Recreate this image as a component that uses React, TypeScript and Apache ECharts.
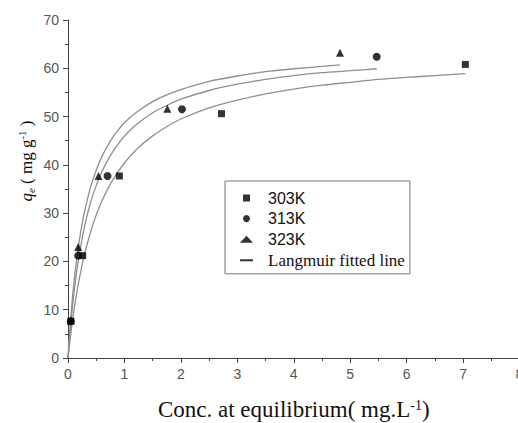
import React, { useEffect, useRef } from "react";
import * as echarts from "echarts";

// Experimental points (Ce, qe)
const s303: [number, number][] = [[0.05, 7.6], [0.26, 21.2], [0.91, 37.7], [2.72, 50.6], [7.04, 60.8]];
const s313: [number, number][] = [[0.05, 7.6], [0.18, 21.2], [0.70, 37.7], [2.02, 51.5], [5.47, 62.4]];
const s323: [number, number][] = [[0.05, 7.8], [0.18, 23.0], [0.54, 37.7], [1.76, 51.6], [4.82, 63.2]];

// Langmuir fitted curves
const fit303: [number, number][] = [[0, 0], [0.02, 2.1], [0.05, 5.1], [0.08, 7.8], [0.12, 11.0], [0.16, 13.8], [0.2, 16.4], [0.25, 19.3], [0.3, 21.8], [0.4, 26.1], [0.5, 29.6], [0.6, 32.5], [0.75, 36.0], [0.9, 38.8], [1.05, 41.1], [1.25, 43.6], [1.5, 46.0], [1.75, 47.9], [2, 49.5], [2.5, 51.8], [3, 53.4], [3.5, 54.7], [4, 55.7], [4.5, 56.5], [5, 57.1], [5.5, 57.7], [6, 58.1], [6.5, 58.5], [7.04, 58.9]];
const fit313: [number, number][] = [[0, 0], [0.02, 3.1], [0.05, 7.1], [0.08, 10.7], [0.12, 14.8], [0.16, 18.4], [0.2, 21.4], [0.25, 24.7], [0.3, 27.6], [0.4, 32.2], [0.5, 35.7], [0.6, 38.6], [0.75, 41.9], [0.9, 44.5], [1.05, 46.6], [1.25, 48.7], [1.5, 50.8], [1.75, 52.3], [2, 53.6], [2.5, 55.4], [3, 56.7], [3.5, 57.7], [4, 58.5], [4.5, 59.1], [5, 59.5], [5.47, 59.9]];
const fit323: [number, number][] = [[0, 0], [0.02, 3.7], [0.05, 8.5], [0.08, 12.6], [0.12, 17.2], [0.16, 21.0], [0.2, 24.3], [0.25, 27.8], [0.3, 30.7], [0.4, 35.4], [0.5, 38.9], [0.6, 41.7], [0.75, 44.9], [0.9, 47.4], [1.05, 49.3], [1.25, 51.2], [1.5, 53.1], [1.75, 54.5], [2, 55.6], [2.5, 57.3], [3, 58.4], [3.5, 59.3], [4, 59.9], [4.5, 60.4], [4.82, 60.7]];

const legendNames = ["303K", "313K", "323K", "Langmuir fitted line"];

export default function App() {
  const ref = useRef<HTMLDivElement>(null);
  useEffect(() => {
    if (!ref.current) return;
    const chart = echarts.init(ref.current, null, { renderer: "svg" });
    const serif = "'Liberation Serif', 'Times New Roman', serif";
    const sans = "'Liberation Sans', Arial, sans-serif";
    const lineColor = "#8f8f8f";
    const lineSeries = (data: [number, number][]) => ({
      type: "line",
      name: legendNames[3],
      data,
      smooth: 0.2,
      symbol: "none",
      showSymbol: false,
      lineStyle: { color: lineColor, width: 1.3 },
      itemStyle: { color: "#333" },
      z: 1,
    });
    const scatter = (name: string, data: [number, number][], symbol: string, size: number) => ({
      type: "scatter",
      name,
      data,
      symbol,
      symbolSize: size,
      itemStyle: { color: "#000" },
      z: 3,
    });
    chart.setOption({
      animation: false,
      backgroundColor: "#fff",
      grid: { left: 68, top: 20, width: 451.5, height: 338, containLabel: false, outerBoundsMode: "none" },
      xAxis: {
        type: "value",
        min: 0,
        max: 8,
        interval: 1,
        name: "Conc. at equilibrium( mg.L{sup|-1})",
        nameLocation: "middle",
        nameGap: 40,
        nameTextStyle: {
          fontFamily: serif,
          fontSize: 23,
          color: "#111",
          lineHeight: 23,
          rich: { sup: { fontFamily: serif, fontSize: 14, lineHeight: 14, verticalAlign: "top", color: "#111" } },
        },
        axisLine: { show: true, lineStyle: { color: "#444", width: 1 } },
        axisTick: { show: true, inside: false, length: 5, lineStyle: { color: "#444" } },
        minorTick: { show: true, splitNumber: 2, length: 3, lineStyle: { color: "#444" } },
        axisLabel: { margin: 9, fontFamily: sans, fontSize: 14, color: "#555" },
        splitLine: { show: false },
      },
      yAxis: {
        type: "value",
        min: 0,
        max: 70,
        interval: 10,
        axisLine: { show: true, lineStyle: { color: "#444", width: 1 } },
        axisTick: { show: true, inside: false, length: 5, lineStyle: { color: "#444" } },
        minorTick: { show: true, splitNumber: 2, length: 3, lineStyle: { color: "#444" } },
        axisLabel: { margin: 9, fontFamily: sans, fontSize: 14, color: "#555" },
        splitLine: { show: false },
      },
      legend: {
        orient: "vertical",
        left: 225,
        top: 181,
        itemWidth: 13,
        itemHeight: 7,
        itemGap: 4.6,
        padding: [9, 5, 5, 15],
        borderColor: "#777",
        borderWidth: 1,
        symbolKeepAspect: true,
        selectedMode: false,
        textStyle: { fontFamily: sans, fontSize: 16, color: "#111", lineHeight: 15, padding: [0, 0, 0, 10] },
        data: [
          { name: legendNames[0], icon: "path://M0 0H1V1H0Z" },
          { name: legendNames[1], icon: "circle" },
          { name: legendNames[2], icon: "triangle" },
          {
            name: legendNames[3],
            icon: "path://M0 0H13V2H0Z",
            itemStyle: { color: "#333" },
            textStyle: { fontFamily: serif, fontSize: 17, color: "#111", lineHeight: 15, padding: [0, 0, 0, 10] },
          },
        ],
      },
      graphic: [
        {
          type: "text",
          x: 26,
          y: 161,
          rotation: Math.PI / 2,
          style: {
            text: "{q|q}{e|e}{t| ( mg g}{s|-1}{t| )}",
            align: "center",
            verticalAlign: "middle",
            fill: "#111",
            rich: {
              q: { fontFamily: serif, fontStyle: "italic", fontSize: 17, lineHeight: 20, fill: "#111" },
              e: { fontFamily: serif, fontStyle: "italic", fontSize: 11, lineHeight: 11, verticalAlign: "bottom", fill: "#111" },
              t: { fontFamily: serif, fontSize: 17, lineHeight: 20, fill: "#111" },
              s: { fontFamily: serif, fontSize: 11, lineHeight: 11, verticalAlign: "top", fill: "#111" },
            },
          },
        },
      ],
      series: [
        lineSeries(fit303),
        lineSeries(fit313),
        lineSeries(fit323),
        scatter(legendNames[0], s303, "rect", 7),
        scatter(legendNames[1], s313, "circle", 8),
        scatter(legendNames[2], s323, "triangle", 8),
      ],
    });
    return () => chart.dispose();
  }, []);
  return (
    <div
      ref={ref}
      style={{ position: "absolute", left: 0, top: 0, width: 518, height: 423, background: "#fff" }}
    />
  );
}
